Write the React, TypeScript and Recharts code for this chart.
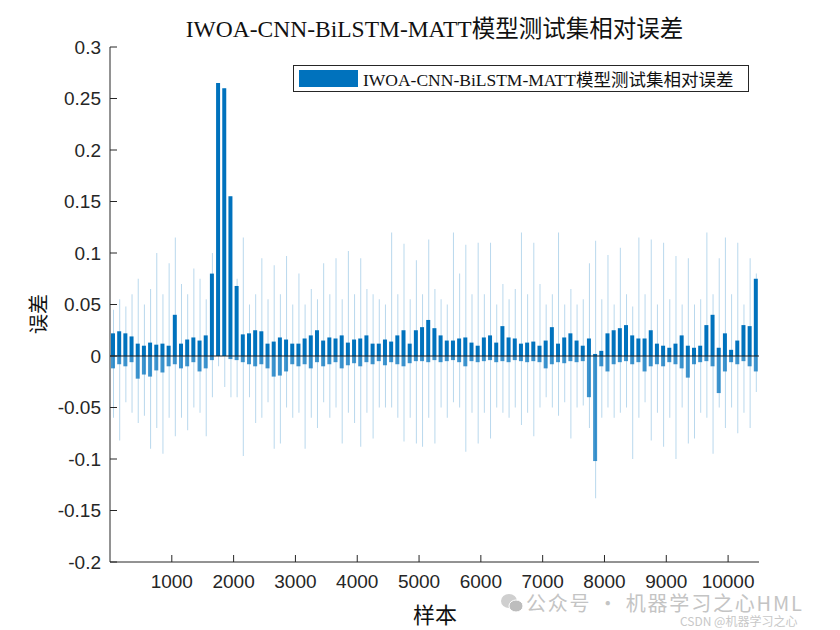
import React from 'react';
import { ComposedChart, Bar, XAxis, YAxis, ReferenceLine, Legend } from 'recharts';

// relative error of the test set, read per block of 100 samples
// core = dense dark part of the bars, spike = thin faint outliers
const BIN = 100;

const posCore = [
  0.022, 0.024, 0.022, 0.019, 0.012, 0.010, 0.013, 0.011, 0.012, 0.010,
  0.040, 0.012, 0.016, 0.018, 0.015, 0.020, 0.080, 0.265, 0.260, 0.155,
  0.068, 0.021, 0.022, 0.025, 0.024, 0.012, 0.014, 0.018, 0.016, 0.012,
  0.012, 0.017, 0.020, 0.025, 0.015, 0.018, 0.017, 0.020, 0.013, 0.016,
  0.017, 0.020, 0.012, 0.012, 0.016, 0.014, 0.020, 0.025, 0.012, 0.025,
  0.028, 0.035, 0.027, 0.020, 0.015, 0.015, 0.017, 0.018, 0.013, 0.010,
  0.018, 0.020, 0.013, 0.029, 0.018, 0.017, 0.012, 0.013, 0.014, 0.010,
  0.015, 0.028, 0.012, 0.018, 0.022, 0.015, 0.010, 0.017, 0.002, 0.005,
  0.022, 0.025, 0.027, 0.030, 0.020, 0.017, 0.017, 0.025, 0.012, 0.010,
  0.008, 0.012, 0.020, 0.010, 0.008, 0.010, 0.030, 0.040, 0.008, 0.022,
  0.006, 0.015, 0.030, 0.029, 0.075,
];

const negCore = [
  -0.012, -0.008, -0.010, -0.006, -0.022, -0.018, -0.020, -0.014, -0.016, -0.010,
  -0.008, -0.012, -0.010, -0.006, -0.015, -0.012, -0.004, 0, 0, -0.003,
  -0.004, -0.006, -0.008, -0.010, -0.008, -0.012, -0.020, -0.019, -0.015, -0.008,
  -0.010, -0.008, -0.012, -0.006, -0.010, -0.008, -0.006, -0.012, -0.009, -0.007,
  -0.010, -0.006, -0.008, -0.005, -0.009, -0.006, -0.008, -0.010, -0.007, -0.005,
  -0.005, -0.006, -0.004, -0.006, -0.005, -0.004, -0.006, -0.010, -0.005, -0.006,
  -0.005, -0.004, -0.006, -0.005, -0.006, -0.004, -0.005, -0.006, -0.005, -0.006,
  -0.012, -0.008, -0.006, -0.007, -0.005, -0.006, -0.005, -0.040, -0.102, -0.010,
  -0.015, -0.008, -0.006, -0.005, -0.008, -0.006, -0.015, -0.010, -0.008, -0.010,
  -0.006, -0.008, -0.012, -0.021, -0.008, -0.006, -0.005, -0.010, -0.036, -0.015,
  -0.006, -0.008, -0.005, -0.010, -0.015,
];

const posSpike = [
  0.045, 0.055, 0.048, 0.060, 0.075, 0.050, 0.065, 0.100, 0.060, 0.090,
  0.115, 0.070, 0.060, 0.085, 0.075, 0.055, 0.100, 0.265, 0.260, 0.155,
  0.075, 0.115, 0.050, 0.060, 0.095, 0.055, 0.088, 0.060, 0.097, 0.050,
  0.080, 0.050, 0.065, 0.055, 0.090, 0.060, 0.095, 0.055, 0.102, 0.060,
  0.095, 0.065, 0.060, 0.055, 0.050, 0.120, 0.060, 0.109, 0.055, 0.093,
  0.060, 0.113, 0.065, 0.055, 0.050, 0.120, 0.080, 0.108, 0.060, 0.110,
  0.060, 0.110, 0.050, 0.070, 0.055, 0.065, 0.120, 0.060, 0.110, 0.070,
  0.050, 0.060, 0.120, 0.050, 0.065, 0.050, 0.055, 0.090, 0.112, 0.055,
  0.098, 0.050, 0.105, 0.060, 0.048, 0.115, 0.060, 0.113, 0.050, 0.110,
  0.055, 0.097, 0.050, 0.095, 0.050, 0.055, 0.120, 0.060, 0.095, 0.115,
  0.060, 0.110, 0.050, 0.095, 0.080,
];

const negSpike = [
  -0.060, -0.082, -0.045, -0.055, -0.065, -0.058, -0.090, -0.070, -0.095, -0.060,
  -0.078, -0.060, -0.072, -0.050, -0.055, -0.078, -0.040, -0.010, -0.030, -0.040,
  -0.040, -0.097, -0.040, -0.065, -0.060, -0.045, -0.090, -0.085, -0.050, -0.060,
  -0.055, -0.090, -0.060, -0.070, -0.045, -0.060, -0.050, -0.085, -0.055, -0.065,
  -0.088, -0.055, -0.080, -0.050, -0.050, -0.050, -0.060, -0.083, -0.060, -0.085,
  -0.088, -0.060, -0.085, -0.050, -0.060, -0.045, -0.050, -0.093, -0.055, -0.085,
  -0.055, -0.080, -0.050, -0.055, -0.060, -0.050, -0.067, -0.055, -0.078, -0.050,
  -0.040, -0.050, -0.058, -0.045, -0.080, -0.050, -0.048, -0.070, -0.138, -0.060,
  -0.050, -0.060, -0.055, -0.050, -0.100, -0.060, -0.045, -0.082, -0.055, -0.088,
  -0.060, -0.100, -0.050, -0.085, -0.080, -0.055, -0.060, -0.095, -0.050, -0.070,
  -0.050, -0.075, -0.055, -0.070, -0.035,
];

const xTicks = [1000, 2000, 3000, 4000, 5000, 6000, 7000, 8000, 9000, 10000];
const yTicks = [-0.2, -0.15, -0.1, -0.05, 0, 0.05, 0.1, 0.15, 0.2, 0.25, 0.3];

const title = 'IWOA-CNN-BiLSTM-MATT模型测试集相对误差';

const chartData = posCore.map((_, i) => ({
  sample: i * BIN + BIN / 2,
  posCore: posCore[i],
  negCore: negCore[i],
  posSpike: posSpike[i],
  negSpike: negSpike[i],
}));

const BLUE = '#0072BD';
const AXIS = '#262626';
const sansFont = "'Liberation Sans', Arial, sans-serif";
const serifFont = "'Liberation Serif', 'Times New Roman', 'Noto Sans CJK SC', serif";
const cjkFont = "'Noto Sans CJK SC', sans-serif";

const tickStyle = { fill: AXIS, fontSize: 19, fontFamily: sansFont };

const LegendBox = () => (
  <div
    style={{
      boxSizing: 'border-box',
      width: 456,
      height: 27,
      border: `1px solid ${AXIS}`,
      background: '#fff',
      display: 'flex',
      alignItems: 'center',
      paddingLeft: 5,
      fontFamily: serifFont,
      fontSize: 17.5,
      color: '#111',
      whiteSpace: 'nowrap',
    }}
  >
    <span style={{ display: 'inline-block', width: 59, height: 17, background: BLUE, marginRight: 5 }} />
    {title}
  </div>
);

export default function App() {
  return (
    <div style={{ position: 'absolute', left: 0, top: 0, width: 840, height: 630, background: '#fff' }}>
      <div
        style={{
          position: 'absolute',
          left: 110,
          width: 649,
          top: 16,
          textAlign: 'center',
          fontFamily: serifFont,
          fontSize: 23.5,
          lineHeight: '26px',
          color: '#111',
          whiteSpace: 'nowrap',
        }}
      >
        {title}
      </div>

      <ComposedChart
        width={840}
        height={630}
        data={chartData}
        stackOffset="sign"
        margin={{ top: 47, right: 81, bottom: 38, left: 50 }}
      >
        <XAxis
          type="number"
          dataKey="sample"
          domain={[0, 10500]}
          ticks={xTicks}
          height={30}
          stroke={AXIS}
          tickSize={-7}
          tickMargin={20}
          tick={tickStyle}
          allowDataOverflow
        />
        <XAxis xAxisId="spike" type="number" dataKey="sample" domain={[0, 10500]} hide />
        <XAxis
          xAxisId="top"
          orientation="top"
          type="number"
          domain={[0, 10500]}
          ticks={xTicks}
          height={0}
          stroke={AXIS}
          tickSize={-7}
          tick={false}
        />
        <YAxis
          domain={[-0.2, 0.3]}
          ticks={yTicks}
          width={60}
          stroke={AXIS}
          tickSize={-7}
          tickMargin={16}
          tick={tickStyle}
          allowDataOverflow
        />
        <YAxis
          yAxisId="right"
          orientation="right"
          domain={[-0.2, 0.3]}
          ticks={yTicks}
          width={0}
          stroke={AXIS}
          tickSize={-7}
          tick={false}
        />
        <Legend
          content={<LegendBox />}
          layout="horizontal"
          verticalAlign="middle"
          align="center"
          wrapperStyle={{ top: 65, left: 293, width: 456, height: 27 }}
        />

        <Bar xAxisId="spike" dataKey="posSpike" stackId="spike" barSize={1} fill={BLUE} fillOpacity={0.28} isAnimationActive={false} />
        <Bar xAxisId="spike" dataKey="negSpike" stackId="spike" barSize={1} fill={BLUE} fillOpacity={0.28} isAnimationActive={false} />
        <Bar dataKey="posCore" stackId="core" barSize={4} fill={BLUE} isAnimationActive={false} />
        <Bar dataKey="negCore" stackId="core" barSize={4} fill={BLUE} fillOpacity={0.75} isAnimationActive={false} />

        <ReferenceLine y={0} stroke="#1a1a1a" strokeWidth={1.2} />
      </ComposedChart>

      <div
        style={{
          position: 'absolute',
          left: 37,
          top: 314,
          transform: 'translate(-50%, -50%) rotate(-90deg)',
          fontFamily: serifFont,
          fontSize: 20,
          color: '#111',
          whiteSpace: 'nowrap',
        }}
      >
        误差
      </div>
      <div
        style={{
          position: 'absolute',
          left: 435,
          top: 613,
          transform: 'translate(-50%, -50%)',
          fontFamily: serifFont,
          fontSize: 22,
          color: '#111',
          whiteSpace: 'nowrap',
        }}
      >
        样本
      </div>

      {/* watermark */}
      <div
        style={{
          position: 'absolute',
          left: 500,
          top: 592,
          display: 'flex',
          alignItems: 'center',
          fontFamily: cjkFont,
          fontSize: 20,
          letterSpacing: 1.8,
          color: '#c4c4c4',
          whiteSpace: 'nowrap',
          lineHeight: '21px',
        }}
      >
        <svg width={24} height={21} style={{ marginRight: 2 }}>
          <ellipse cx={9} cy={9} rx={8} ry={7} fill="#cfcfcf" />
          <ellipse cx={16} cy={14} rx={7} ry={6} fill="#bdbdbd" stroke="#fff" strokeWidth={1} />
        </svg>
        公众号 · 机器学习之心HML
      </div>
      <div
        style={{
          position: 'absolute',
          left: 680,
          top: 614,
          fontFamily: cjkFont,
          fontSize: 12,
          lineHeight: '14px',
          color: '#c8c8c8',
          whiteSpace: 'nowrap',
        }}
      >
        CSDN @机器学习之心
      </div>
    </div>
  );
}
